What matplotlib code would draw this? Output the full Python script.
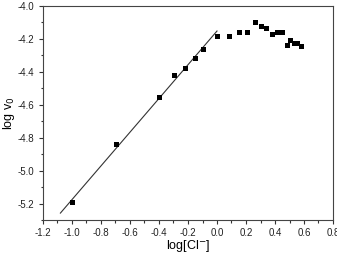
import numpy as np
import matplotlib.pyplot as plt
from matplotlib.ticker import MultipleLocator

logCl = [-1.0, -0.7, -0.4, -0.3, -0.22, -0.155, -0.095, 0.0, 0.08, 0.15, 0.21,
         0.26, 0.30, 0.34, 0.38, 0.415, 0.45, 0.48, 0.505, 0.53, 0.555, 0.58]
logv0 = [-5.19, -4.837, -4.553, -4.42, -4.374, -4.315, -4.264, -4.185, -4.183,
         -4.159, -4.159, -4.10, -4.12, -4.134, -4.171, -4.16, -4.16, -4.236,
         -4.207, -4.224, -4.222, -4.246]
fit_x = [-1.08, 0.0]
fit_y = [-5.258, -4.152]

plt.rc('font', family='Liberation Sans', size=7)
plt.rcParams['axes.unicode_minus'] = False

fig = plt.figure(figsize=(3.37, 2.58), dpi=100)
ax = fig.add_axes([43/337, 38/258, 290/337, 214/258])
ax.plot(fit_x, fit_y, color='#333333', lw=0.8)
ax.plot(logCl, logv0, 's', color='black', ms=3.6, mew=0)

ax.set_xlim(-1.2, 0.8)
ax.set_ylim(-5.3, -4.0)
ax.xaxis.set_major_locator(MultipleLocator(0.2))
ax.xaxis.set_minor_locator(MultipleLocator(0.1))
ax.yaxis.set_major_locator(MultipleLocator(0.2))
ax.yaxis.set_minor_locator(MultipleLocator(0.1))
ax.set_yticks(np.arange(-5.2, -3.99, 0.2))
ax.tick_params(which='major', length=3, width=0.8, direction='out', pad=3, colors='#333333', labelcolor='#222222')
ax.tick_params(which='minor', length=1.8, width=0.8, direction='out', colors='#333333')
for s in ax.spines.values():
    s.set_linewidth(0.8)
    s.set_color('#444444')

ax.set_xlabel(r'log[Cl$^{-}$]', fontsize=9, labelpad=0)
ax.set_ylabel(r'log v$_0$', fontsize=9, labelpad=1)

fig.savefig('out.png', dpi=100)
